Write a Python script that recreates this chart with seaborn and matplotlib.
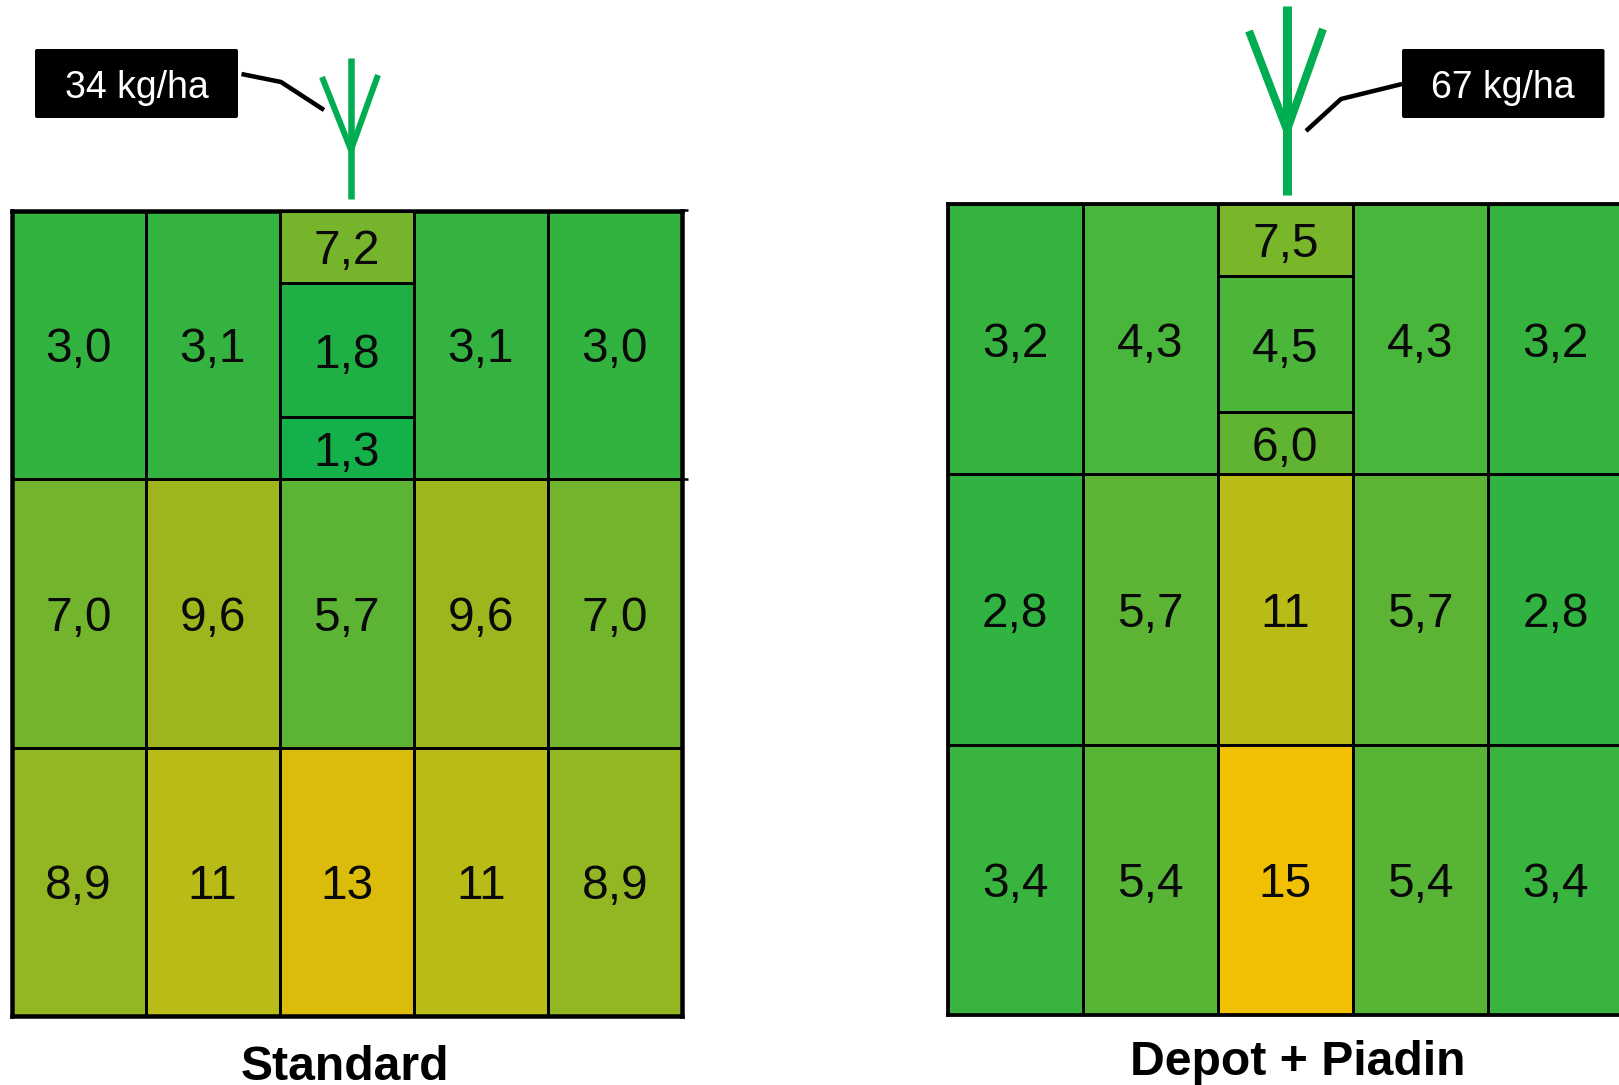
import numpy as np
import seaborn as sns
import matplotlib.pyplot as plt
from matplotlib.colors import LinearSegmentedColormap
from matplotlib.patches import FancyBboxPatch

# concentrations per cell, the centre top cell is split in three
standard_rows = [[3.0, 3.1, np.nan, 3.1, 3.0],
                 [7.0, 9.6, 5.7, 9.6, 7.0],
                 [8.9, 11, 13, 11, 8.9]]
standard_stack = [7.2, 1.8, 1.3]
depot_rows = [[3.2, 4.3, np.nan, 4.3, 3.2],
              [2.8, 5.7, 11, 5.7, 2.8],
              [3.4, 5.4, 15, 5.4, 3.4]]
depot_stack = [7.5, 4.5, 6.0]

panel_titles = ['Standard', 'Depot + Piadin']
rate_labels = ['34 kg/ha', '67 kg/ha']

color_values = [1.3, 1.8, 3.0, 4.3, 5.7, 7.0, 8.9, 9.6, 11, 13, 15]
color_stops = ['#14B04A', '#1FB045', '#33B340', '#48B63A', '#5DB334', '#72B52C',
               '#93B723', '#9DB51E', '#B9BC16', '#DBBC0A', '#F2C003']

W, H = 1619, 1085
VMIN, VMAX = 1.3, 15
GREEN = '#00AD50'

plt.rcdefaults()
sns.set_theme(style='white')
plt.rcParams['font.family'] = ['Liberation Sans', 'DejaVu Sans']

cmap = LinearSegmentedColormap.from_list(
    'yield_map',
    [((v - VMIN) / (VMAX - VMIN), c) for v, c in zip(color_values, color_stops)])


def px(n):
    return n * 72 / 100


def fmt(v):
    if np.isnan(v):
        return ''
    return f'{v:.0f}' if v >= 10 else f'{v:.1f}'.replace('.', ',')


def add_axes_px(fig, x0, y0, x1, y1):
    return fig.add_axes([x0 / W, 1 - y1 / H, (x1 - x0) / W, (y1 - y0) / H])


def draw_map(ax, values, inner_lw, outer_lw=None):
    values = np.array(values, dtype=float)
    labels = np.vectorize(fmt)(values)
    sns.heatmap(values, ax=ax, cmap=cmap, vmin=VMIN, vmax=VMAX, cbar=False,
                annot=labels, fmt='', linewidths=px(inner_lw), linecolor='black',
                xticklabels=False, yticklabels=False,
                annot_kws={'fontsize': 34.5, 'color': '#0a0a0a', 'va': 'center_baseline'})
    for s in ax.spines.values():
        s.set_visible(True)
        s.set_color('black')
        s.set_linewidth(px(outer_lw or inner_lw))


def draw_panel(fig, rows, stack, box, splits, inner_lw, outer_lw):
    x0, y0, x1, y1 = box
    ax = add_axes_px(fig, x0, y0, x1, y1)
    draw_map(ax, rows, inner_lw, outer_lw)
    # centre column top cell, three stacked single cells
    col = (x1 - x0) / 5
    for v, top, bottom in zip(stack, splits[:-1], splits[1:]):
        ax_cell = add_axes_px(fig, x0 + 2 * col, top, x0 + 3 * col, bottom)
        draw_map(ax_cell, [[v]], inner_lw)


fig = plt.figure(figsize=(W / 100, H / 100), dpi=100)

draw_panel(fig, standard_rows, standard_stack, (11.5, 210.5, 682, 1016),
           [210.5, 283, 417, 479], 3, 4.5)
draw_panel(fig, depot_rows, depot_stack, (947.5, 204, 1623, 1015),
           [204, 276, 412, 474.3], 3, 3.8)

# everything around the maps, in pixel coordinates
over = fig.add_axes([0, 0, 1, 1])
over.set_xlim(0, W)
over.set_ylim(H, 0)
over.axis('off')
over.patch.set_alpha(0)

# small ticks at right of the standard map
over.plot([682, 688], [210, 210], color='black', lw=px(2.5), solid_capstyle='butt')
over.plot([682, 688], [479, 479], color='black', lw=px(2.5), solid_capstyle='butt')

# plant icons
over.plot([351, 351], [58, 199], color=GREEN, lw=px(6.5), solid_capstyle='butt')
over.plot([322, 351, 378], [77, 150, 75], color=GREEN, lw=px(6), solid_capstyle='butt',
          solid_joinstyle='miter')
over.plot([1287, 1287], [6, 195], color=GREEN, lw=px(9), solid_capstyle='butt')
over.plot([1249, 1287, 1323], [31, 130, 29], color=GREEN, lw=px(8), solid_capstyle='butt',
          solid_joinstyle='miter')

# callouts
over.plot([241.5, 281, 324], [74, 82, 110], color='black', lw=px(4.5), solid_capstyle='butt')
over.plot([1402, 1341, 1306], [84, 99, 131], color='black', lw=px(4.5), solid_capstyle='butt')

for (x0, x1), label in zip([(35, 238), (1402, 1604.5)], rate_labels):
    over.add_patch(FancyBboxPatch((x0 + 2, 51), x1 - x0 - 4, 65,
                                  boxstyle='round,pad=2,rounding_size=2',
                                  fc='black', ec='none'))
    over.text((x0 + x1) / 2, 84, label, color='white', fontsize=27,
              ha='center', va='center_baseline')

over.text(345, 1080, panel_titles[0], fontsize=34.7, fontweight='bold', color='black',
          ha='center', va='baseline')
over.text(1298, 1075, panel_titles[1], fontsize=34.7, fontweight='bold', color='black',
          ha='center', va='baseline')

fig.savefig('out.png', dpi=100)
